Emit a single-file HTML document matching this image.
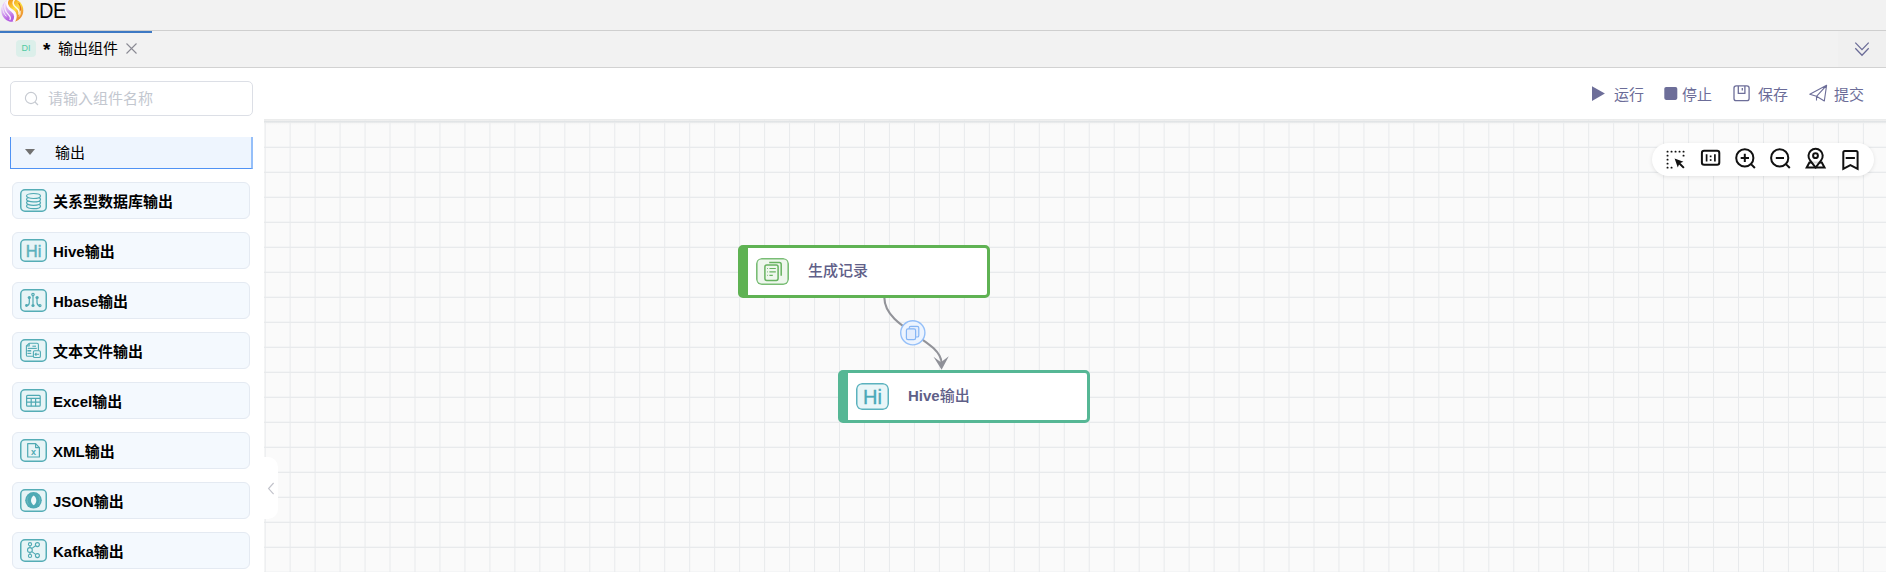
<!DOCTYPE html>
<html lang="zh-CN">
<head>
<meta charset="utf-8">
<title>IDE</title>
<style>
*{box-sizing:border-box;margin:0;padding:0}
html,body{width:1886px;height:580px;overflow:hidden;background:#fff}
body{position:relative;font-family:"Liberation Sans","Noto Sans CJK SC",sans-serif;color:#000}
.abs{position:absolute}
#topbar{left:0;top:0;width:1886px;height:31px;background:#f2f2f2;border-bottom:1px solid #cfcfcf}
#logo{left:0;top:-1px;width:25px;height:25px}
#title{left:34px;top:-1px;font-size:20px;line-height:22px;height:22px;color:#000;letter-spacing:-0.5px;transform:scaleY(1.07);transform-origin:0 0}
#tabbar{left:0;top:31px;width:1886px;height:37px;background:#f2f2f2;border-bottom:1px solid #d2d2d2}
#tabline{left:0;top:31px;width:152px;height:2px;background:#3d79c4}
#di{left:16px;top:40px;width:20px;height:17px;border-radius:4px;background:#dcefea;color:#52caa2;font-size:9px;line-height:17px;text-align:center}
#tabtxt{left:58px;top:39px;font-size:15px;line-height:20px;height:20px;white-space:nowrap}
#tabtxt b{position:absolute;left:-15px;top:1px;font-size:19px;line-height:20px}
#tabx{left:126px;top:43px;width:11px;height:11px}
#chev{left:1854px;top:41px;width:16px;height:16px}
/* sidebar */
#search{left:10px;top:81px;width:243px;height:35px;border:1px solid #dcdfe6;border-radius:5px;background:#fff}
#search svg{position:absolute;left:13px;top:9px}
#search span{position:absolute;left:37px;top:7px;font-size:15px;line-height:20px;color:#c3c7cf;white-space:nowrap}
#cat{left:10px;top:137px;width:243px;height:32px;background:#eef5fe;border:1px solid #4f92f4;border-top:none;border-right:2px solid #95bff9}
#cat .tri{position:absolute;left:14px;top:12.3px;width:0;height:0;border-left:5px solid transparent;border-right:5px solid transparent;border-top:6.2px solid #717171}
#cat span{position:absolute;left:44px;top:6px;font-size:15px;line-height:20px}
.item{position:absolute;left:12px;width:238px;height:37px;background:#f4f9fe;border:1px solid #e4eaf2;border-radius:6px}
.item .ic{position:absolute;left:7px;top:6px;width:27px;height:23px}
.item b{position:absolute;left:40px;top:9px;font-size:15px;line-height:20px;font-weight:bold;white-space:nowrap;color:#000}
/* toolbar */
.tb{position:absolute;top:85px;font-size:15px;line-height:20px;color:#6b6c98;white-space:nowrap}
/* canvas */
#canvas{left:264px;top:119px;width:1622px;height:453px;background:#fafafa;overflow:hidden}
#canvas .shadow{position:absolute;left:0;top:0;width:100%;height:6px;background:linear-gradient(#eaebeb,rgba(250,250,250,0))}
#canvas .l0{position:absolute;left:0;top:2px;width:100%;height:1px;background:#e1e4e6}
#handle{left:264px;top:457px;width:14px;height:62px;background:#fff;border-radius:0 10px 10px 0}
#pill{left:1652px;top:143px;width:222px;height:33px;border-radius:17px;background:#fff;box-shadow:0 1px 4px rgba(0,0,0,.10)}
.node{position:absolute;width:252px;height:53px;border-radius:5px;background:#fff}
.node .ibox{position:absolute;left:8px;top:10px;width:33px;height:27px;border-radius:6px}
.node b{position:absolute;left:60px;top:13px;font-size:15px;line-height:20px;font-weight:500;color:#5f6088;white-space:nowrap}
#n1{left:738px;top:245px;border:3px solid #5fb253;border-left-width:10px}
#n2{left:838px;top:370px;border:3px solid #56b795;border-left-width:10px}
</style>
</head>
<body>
<div id="topbar" class="abs"></div>
<svg id="logo" class="abs" viewBox="0 0 25 25">
<defs>
<linearGradient id="lp" x1="0.2" y1="0" x2="0.5" y2="1"><stop offset="0" stop-color="#eedcf9"/><stop offset="0.5" stop-color="#d9b0f1"/><stop offset="0.85" stop-color="#b866e2"/><stop offset="1" stop-color="#b25ddf"/></linearGradient>
<linearGradient id="lo" x1="0.1" y1="0" x2="0.6" y2="1"><stop offset="0" stop-color="#ee921c"/><stop offset="0.22" stop-color="#f6b52a"/><stop offset="0.45" stop-color="#fbe03e"/><stop offset="0.7" stop-color="#f2a434"/><stop offset="1" stop-color="#e7842e"/></linearGradient>
<clipPath id="lc"><ellipse cx="12.3" cy="11.4" rx="11" ry="11.4"/></clipPath>
</defs>
<g clip-path="url(#lc)">
<rect x="0" y="0" width="25" height="25" fill="#f8f1fc"/>
<path d="M8.6 0 C6 4.5 7.6 8.6 11.6 11.6 C15.4 14.4 16.4 18.4 13 24 L0 24 L0 0 Z" fill="url(#lp)"/>
<path d="M8.6 0 C6.6 4 8.4 7.8 12.8 10.6 C17.2 13.4 18.2 18 14.4 24 L25 24 L25 0 Z" fill="url(#lo)"/>
<path d="M8.2 0.3 C5.8 4.6 7.4 8.8 11.6 11.9 C15.2 14.6 16.2 18.4 13.2 23" stroke="#fefaff" stroke-width="1.7" fill="none"/>
<path d="M5.6 2.6 C3.6 8 5.2 12.6 8.6 15.8 C10.6 17.8 10.8 19.4 9.8 21" stroke="#f8effd" stroke-width="1.25" fill="none"/>
<path d="M3 6.6 C2.2 11 3.6 14.6 6.4 17.4" stroke="#f5e9fb" stroke-width="1" fill="none"/>
<path d="M14.4 0.8 C12.2 3.6 13.2 6.6 16.2 8.6 C18.8 10.4 19.6 13 18.8 15.6" stroke="#fff8e2" stroke-width="1.5" fill="none"/>
<path d="M18.6 4 C20.4 6.6 21 9.6 20.4 12.6" stroke="#de7424" stroke-width="1.1" fill="none"/>
<path d="M20.4 11.6 C20.8 14 20.2 16 19 17.6" stroke="#fdf0d0" stroke-width="0.8" fill="none"/>
</g>
</svg>
<div id="title" class="abs">IDE</div>
<div id="tabbar" class="abs"></div>
<div class="abs" style="left:1838px;top:31px;width:48px;height:36px;background:#f0f0f0"></div>
<div id="tabline" class="abs"></div>
<div id="di" class="abs">DI</div>
<div id="tabtxt" class="abs"><b>*</b>输出组件</div>
<svg id="tabx" class="abs" viewBox="0 0 11 11"><path d="M0.5 0.5 L10.5 10.5 M10.5 0.5 L0.5 10.5" stroke="#8a8a94" stroke-width="1.1" fill="none"/></svg>
<svg id="chev" class="abs" viewBox="0 0 16 16"><path d="M1.3 1.6 L8 8.6 L14.7 1.6 M1.3 7.3 L8 14.3 L14.7 7.3" stroke="#6a6b97" stroke-width="1.25" fill="none"/></svg>

<div id="search" class="abs"><svg width="16" height="16" viewBox="0 0 16 16"><circle cx="7" cy="7" r="5.6" stroke="#c6cad1" stroke-width="1.15" fill="none"/><path d="M11 11 L14 14" stroke="#c6cad1" stroke-width="1.15"/></svg><span>请输入组件名称</span></div>
<div id="cat" class="abs"><i class="tri"></i><span>输出</span></div>

<div class="item" style="top:182px"><svg class="ic" width="27" height="23" viewBox="0 0 27 23"><rect x="0.75" y="0.75" width="25.5" height="21.5" rx="4.2" fill="#e7f4f6" stroke="#55adb6" stroke-width="1.5"/><ellipse cx="13.5" cy="17.2" rx="7" ry="2.5" fill="#e7f4f6" stroke="#4fa9b3" stroke-width="1.2"/><ellipse cx="13.5" cy="13.8" rx="7" ry="2.5" fill="#e7f4f6" stroke="#4fa9b3" stroke-width="1.2"/><ellipse cx="13.5" cy="10.4" rx="7" ry="2.5" fill="#e7f4f6" stroke="#4fa9b3" stroke-width="1.2"/><ellipse cx="13.5" cy="7" rx="7" ry="2.5" fill="#e7f4f6" stroke="#4fa9b3" stroke-width="1.2"/></svg><b>关系型数据库输出</b></div>
<div class="item" style="top:232px"><svg class="ic" width="27" height="23" viewBox="0 0 27 23"><rect x="0.75" y="0.75" width="25.5" height="21.5" rx="4.2" fill="#e7f4f6" stroke="#55adb6" stroke-width="1.5"/><text x="13.6" y="18.1" font-family="Liberation Sans, sans-serif" font-size="16.5" text-anchor="middle" fill="#5cb1bc" stroke="#5cb1bc" stroke-width="0.45">Hi</text></svg><b>Hive输出</b></div>
<div class="item" style="top:282px"><svg class="ic" width="27" height="23" viewBox="0 0 27 23"><rect x="0.75" y="0.75" width="25.5" height="21.5" rx="4.2" fill="#e7f4f6" stroke="#55adb6" stroke-width="1.5"/><g stroke="#4fa9b3" stroke-width="1.2" fill="none"><path d="M13 6.8 V15.5"/><path d="M9.3 9 V13.6 C9.3 15.6 8.6 16.6 6.6 16.6"/><path d="M17 9 V13.6 C17 15.6 17.8 16.6 19.8 16.6"/><circle cx="13" cy="5.6" r="1.2"/><circle cx="19.9" cy="16.6" r="1.1"/></g><g fill="#4fa9b3"><circle cx="9.3" cy="8.5" r="1.6"/><circle cx="17.1" cy="8.5" r="1.6"/><circle cx="13" cy="16.5" r="1.6"/><circle cx="6.5" cy="16.5" r="1.4"/></g></svg><b>Hbase输出</b></div>
<div class="item" style="top:332px"><svg class="ic" width="27" height="23" viewBox="0 0 27 23"><rect x="0.75" y="0.75" width="25.5" height="21.5" rx="4.2" fill="#e7f4f6" stroke="#55adb6" stroke-width="1.5"/><g stroke="#4fa9b3" stroke-width="1.1" fill="none" stroke-linejoin="round"><path d="M9.2 4.3 H17 Q18.4 4.3 18.4 5.7 V11.5 M13.2 17.3 H7.8 Q6.4 17.3 6.4 15.9 V7 L9.2 4.3"/><path d="M9.2 4.3 V7 H6.4"/><path d="M12.4 7.2 H16"/><path d="M7.8 9.4 H16.8"/><path d="M7.4 11.8 H11.2" stroke-width="1.5"/><path d="M7.4 14.4 H11.2"/><rect x="13.4" y="11.8" width="7" height="6.7" rx="1.3" fill="#e7f4f6"/><path d="M15 15.3 H19 M16.4 13.9 L15 15.3 L16.4 16.7"/></g></svg><b>文本文件输出</b></div>
<div class="item" style="top:382px"><svg class="ic" width="27" height="23" viewBox="0 0 27 23"><rect x="0.75" y="0.75" width="25.5" height="21.5" rx="4.2" fill="#e7f4f6" stroke="#55adb6" stroke-width="1.5"/><g stroke="#4fa9b3" stroke-width="1.2" fill="none"><rect x="6.6" y="6.4" width="13.6" height="10.8" rx="1"/><path d="M6.6 9.4 H20.2 M6.6 13.1 H20.2 M11.2 9.4 V17.2 M15.6 9.4 V17.2"/></g></svg><b>Excel输出</b></div>
<div class="item" style="top:432px"><svg class="ic" width="27" height="23" viewBox="0 0 27 23"><rect x="0.75" y="0.75" width="25.5" height="21.5" rx="4.2" fill="#e7f4f6" stroke="#55adb6" stroke-width="1.5"/><g stroke="#4fa9b3" stroke-width="1.2" fill="none" stroke-linejoin="round"><path d="M7.7 4.7 H15.6 L19.4 8.6 V18 H7.7 Z"/><path d="M15.6 4.7 V8.6 H19.4"/></g><text x="13.6" y="15.8" font-family="Liberation Sans, sans-serif" font-size="9" font-weight="bold" text-anchor="middle" fill="#4fa9b3">x</text></svg><b>XML输出</b></div>
<div class="item" style="top:482px"><svg class="ic" width="27" height="23" viewBox="0 0 27 23"><rect x="0.75" y="0.75" width="25.5" height="21.5" rx="4.2" fill="#e7f4f6" stroke="#55adb6" stroke-width="1.5"/><circle cx="13.5" cy="11.3" r="8.3" fill="#4faab4"/><path d="M13.7 6.4 C17.2 9.2 17.2 13.6 13.7 16.3 C10.1 13.6 10.1 9.2 13.7 6.4 Z" fill="#f1f9fa"/><path d="M8.2 7.6 C6.6 10 6.8 13.2 8.6 15.4 M18.8 7.4 C20.3 9.8 20.2 13 18.6 15.2" stroke="#78c0c8" stroke-width="0.7" fill="none"/></svg><b>JSON输出</b></div>
<div class="item" style="top:532px"><svg class="ic" width="27" height="23" viewBox="0 0 27 23"><rect x="0.75" y="0.75" width="25.5" height="21.5" rx="4.2" fill="#e7f4f6" stroke="#55adb6" stroke-width="1.5"/><g stroke="#4fa9b3" stroke-width="1.1" fill="none"><path d="M10 7 V8.4 M10 13.6 V15.1 M11.9 9.4 L15.6 6.8 M11.9 12.6 L15.6 15.4"/><circle cx="10" cy="5.2" r="1.6"/><circle cx="10" cy="16.9" r="1.6"/><circle cx="9.9" cy="11" r="2.4"/><circle cx="17.4" cy="5.6" r="2"/><circle cx="17.4" cy="16.6" r="2"/></g></svg><b>Kafka输出</b></div>

<div class="tb" style="left:1614px">运行</div>
<div class="tb" style="left:1682px">停止</div>
<div class="tb" style="left:1758px">保存</div>
<div class="tb" style="left:1834px">提交</div>

<div id="canvas" class="abs">
<svg class="abs" style="left:0;top:0" width="1622" height="453">
<defs><pattern id="g" x="0.66" y="3" width="24.972" height="25" patternUnits="userSpaceOnUse"><path d="M0.5 0 V25 M0 0.5 H25" stroke="#e8eaec" stroke-width="1" fill="none"/><rect x="0" y="24.65" width="25" height="0.35" fill="#e8eaec"/></pattern></defs>
<rect width="1622" height="453" fill="url(#g)"/>
</svg>
<div class="shadow"></div><div class="l0"></div>
</div>
<div id="handle" class="abs"><svg width="14" height="62" viewBox="264 457 14 62"><path d="M273.6 483 L268.6 488.6 L273.6 494.2" stroke="#c2c3cb" stroke-width="1.2" fill="none"/></svg></div>
<div id="pill" class="abs"></div>
<svg class="abs" style="left:1652px;top:143px" width="222" height="33" viewBox="1652 143 222 33">
<g fill="#111"><rect x="1666.6" y="150.7" width="1.9" height="1.9" rx="0.7"/><rect x="1670.6" y="150.7" width="1.9" height="1.9" rx="0.7"/><rect x="1674.6" y="150.7" width="1.9" height="1.9" rx="0.7"/><rect x="1678.6" y="150.7" width="1.9" height="1.9" rx="0.7"/><rect x="1682.6" y="150.7" width="1.9" height="1.9" rx="0.7"/><rect x="1666.6" y="154.7" width="1.9" height="1.9" rx="0.7"/><rect x="1666.6" y="158.7" width="1.9" height="1.9" rx="0.7"/><rect x="1666.6" y="162.7" width="1.9" height="1.9" rx="0.7"/><rect x="1666.6" y="166.7" width="1.9" height="1.9" rx="0.7"/><rect x="1682.6" y="154.7" width="1.9" height="1.9" rx="0.7"/><rect x="1670.6" y="166.7" width="1.9" height="1.9" rx="0.7"/><path d="M1674.6 158.6 L1683.4 161.8 L1680.4 163 L1684.6 167.2 L1683.2 168.6 L1679 164.4 L1677.8 167.4 Z"/></g>
<g stroke="#111" stroke-width="2" fill="none">
<rect x="1701.9" y="150.8" width="17.4" height="13.9" rx="2.2"/>
<path d="M1706.6 154.3 V161.5 M1714.9 154.3 V161.5" stroke-width="1.7"/>
<circle cx="1744.8" cy="157.9" r="8.6"/><path d="M1751 164.1 L1754.9 168 M1740.7 157.9 H1749 M1744.8 153.8 V162"/>
<circle cx="1779.7" cy="157.9" r="8.6"/><path d="M1785.9 164.1 L1789.8 168 M1775.8 157.9 H1784"/>
<path d="M1809.4 162.4 L1806.7 167.4 H1824.5 L1821.8 162.4 Z" stroke-linejoin="miter"/>
<path d="M1815.6 167.6 L1810.1 160.4 A7.1 7.1 0 1 1 1821.1 160.4 Z" stroke-linejoin="round" fill="#fff" fill-opacity="0.85"/>
<circle cx="1815.5" cy="155.7" r="2.4"/>
<path d="M1843.3 168.8 V152.5 Q1843.3 151 1844.8 151 H1856.1 Q1857.6 151 1857.6 152.5 V168.8 L1850.4 165.2 Z M1845.7 157.9 H1854.9"/>
</g>
<g fill="#111"><rect x="1709.8" y="155.5" width="1.7" height="1.7"/><rect x="1709.8" y="159.2" width="1.7" height="1.7"/></g>
</svg>

<svg class="abs" style="left:1580px;top:80px" width="300" height="30" viewBox="1580 80 300 30">
<polygon points="1592,86.2 1592,101 1604.9,93.6" fill="#6d6e99"/>
<rect x="1664.3" y="86.9" width="13" height="13" rx="1.8" fill="#6d6e99"/>
<g stroke="#6d6e99" stroke-width="1.3" fill="none" stroke-linejoin="round">
<rect x="1734" y="85.9" width="15.1" height="14.8" rx="2.2"/>
<path d="M1738.3 86 V93.4 H1744.9 V86 M1742.3 88 V90.6"/>
<path d="M1826.6 85.3 L1809.8 94.3 L1816.5 96.3 L1824.3 101 Z M1826.6 85.3 L1816.5 96.3 V100.6" stroke-width="1.1"/>
</g>
</svg>
<svg class="abs" style="left:870px;top:290px" width="90" height="90" viewBox="870 290 90 90">
<path d="M884.4 298 C884.4 328 941.5 340 941.5 363" stroke="#929399" stroke-width="2.1" fill="none"/>
<polygon points="941.6,369.8 933.5,356.8 940.9,362.2 948.8,356.3" fill="#8f9098"/>
<circle cx="912.8" cy="332.8" r="12.1" fill="#edf4fe" stroke="#94bff8" stroke-width="1.4"/>
<g stroke="#86b6f5" stroke-width="1.2" fill="#e3edfd"><rect x="909.2" y="326.4" width="9.6" height="10.6" rx="1.6"/><rect x="906.4" y="328.8" width="9.2" height="10.8" rx="1.6"/></g>
</svg>
<div id="n1" class="node"><svg class="ibox" width="33" height="27" viewBox="756 258 33 27"><rect x="756.8" y="258.8" width="31.4" height="25.4" rx="4.6" fill="#eef7ed" stroke="#79bd75" stroke-width="1.6"/>
<g stroke="#67b260" stroke-width="1.5" fill="none" stroke-linejoin="round"><path d="M769.2 262.6 H779.4 Q781.2 262.6 781.2 264.4 V275.8"/><rect x="764.9" y="265.1" width="13.2" height="15.3" rx="1.8" fill="#eef7ed"/><path d="M769.4 268.5 H775.8 M769.4 271.9 H775.8 M769.4 275.3 H772.8" stroke-width="1.2"/><path d="M767.1 268.5 H767.9 M767.1 271.9 H767.9 M767.1 275.3 H767.9" stroke-width="1"/></g></svg><b>生成记录</b></div>
<div id="n2" class="node"><svg class="ibox" width="33" height="27" viewBox="0 0 33 27"><rect x="0.75" y="0.75" width="31.5" height="25.5" rx="5.2" fill="#e9f6f8" stroke="#5bb2be" stroke-width="1.5"/>
<text x="16.4" y="21" font-family="Liberation Sans, sans-serif" font-size="20" text-anchor="middle" fill="#4aa9b8" stroke="#4aa9b8" stroke-width="0.35">Hi</text></svg><b><span style="font-weight:bold">Hive</span>输出</b></div>
</body>
</html>
